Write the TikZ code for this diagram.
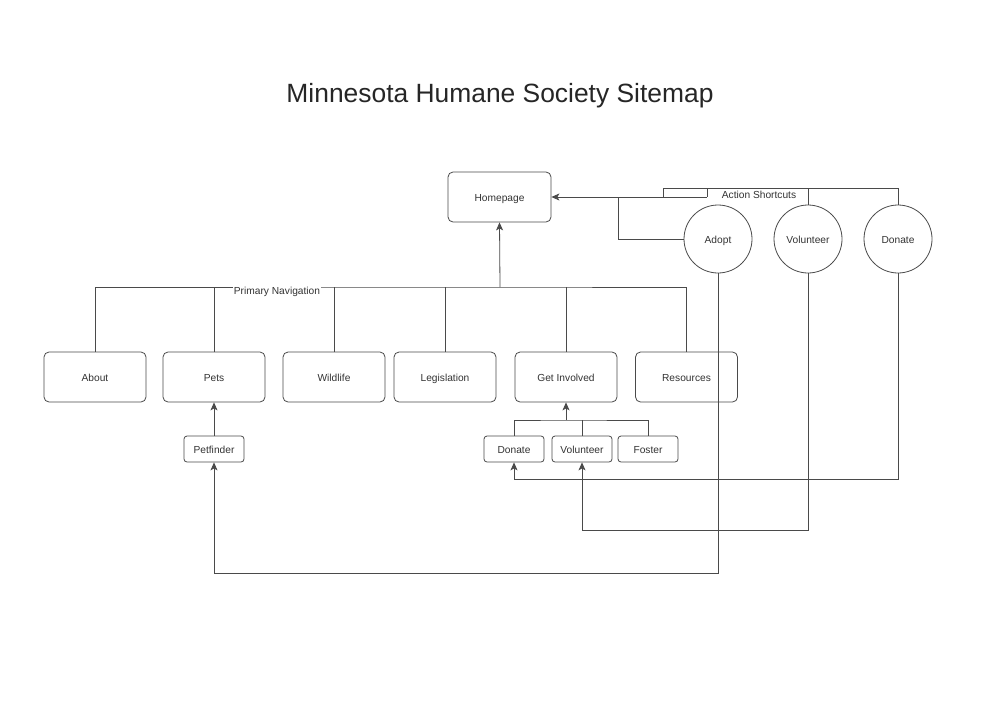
\documentclass[tikz,border=0pt]{standalone}
\usepackage{fontspec}
\setmainfont{Liberation Sans}
\usetikzlibrary{arrows.meta}
\definecolor{ln}{HTML}{4A4A4A}
\definecolor{tx}{HTML}{333333}
\begin{document}
\begin{tikzpicture}[x=1pt,y=-1pt,
  every node/.style={text=tx,font=\fontsize{10.2}{12}\selectfont},
  even/.style={text height=11pt,text depth=1.7pt},
  bigbox/.style={even,draw=ln,line width=0.8pt,rounded corners=5pt,minimum width=102pt,minimum height=50pt,inner sep=0pt},
  smallbox/.style={even,draw=ln,line width=0.8pt,rounded corners=3pt,minimum width=60pt,minimum height=26pt,inner sep=0pt},
  shortcut/.style={even,draw=ln,line width=0.8pt,circle,minimum size=68pt,inner sep=0pt},
  conn/.style={draw=ln,line width=0.8pt},
  arr/.style={conn,-{Stealth[length=8pt,width=7pt,inset=2pt]}},
  lbl/.style={text height=7.4pt,text depth=2.1pt,fill=white,inner sep=1pt}]
\useasboundingbox (0,0) rectangle (1000,709);
\fill[white] (0,0) rectangle (1000,709);

\node[font=\fontsize{26.4}{30}\selectfont,text=black!85] (title) at (500,96) {Minnesota Humane Society Sitemap};

\node[bigbox,minimum width=103pt] (home) at (499.5,197) {Homepage};

\node[bigbox] (about) at (95,377) {About};
\node[bigbox] (pets) at (214,377) {Pets};
\node[bigbox] (wild) at (334,377) {Wildlife};
\node[bigbox] (legis) at (445,377) {Legislation};
\node[bigbox] (gi) at (566,377) {Get Involved};
\node[bigbox] (res) at (686.5,377) {Resources};

\node[smallbox] (petf) at (214,449) {Petfinder};
\node[smallbox] (ddon) at (514,449) {Donate};
\node[smallbox] (dvol) at (582,449) {Volunteer};
\node[smallbox] (dfos) at (648,449) {Foster};

\node[shortcut] (cadopt) at (718,239) {Adopt};
\node[shortcut] (cvol) at (808,239) {Volunteer};
\node[shortcut] (cdon) at (898,239) {Donate};

% primary navigation
\coordinate (nav) at (500,287);
\draw[conn] (about.north) |- (nav) -| (res.north);
\draw[conn] (pets.north) -- (214,287);
\draw[conn] (wild.north) -- (334,287);
\draw[conn] (legis.north) -- (445,287);
\draw[conn] (gi.north) -- (566,287);
\draw[arr] (nav) -- (home.south);
\node[lbl] (navlbl) at (277,292) {Primary Navigation};

% action shortcuts
\coordinate (asl) at (663,188);
\coordinate (asr) at (707,188);
\coordinate (asj) at (618,197);
\draw[conn] (cdon.north) |- (asl) -- (663,197);
\draw[conn] (cvol.north) -- (808,188);
\draw[conn] (asr) -- (707,197);
\draw[arr] (707,197) -- (home.east);
\draw[conn] (cadopt.west) -| (asj);
\node[lbl] (aslbl) at (759,196) {Action Shortcuts};

% get involved subtree
\coordinate (gij) at (566,420);
\draw[conn] (ddon.north) |- (gij) -| (dfos.north);
\draw[conn] (dvol.north) -- (582,420);
\draw[arr] (gij) -- (gi.south);

% petfinder
\draw[arr] (petf.north) -- (pets.south);

% shortcut links
\draw[arr] (cdon.south) -- (898,479) -| (ddon.south);
\draw[arr] (cvol.south) -- (808,530) -| (dvol.south);
\draw[arr] (cadopt.south) -- (718,573) -| (petf.south);
\end{tikzpicture}
\end{document}
